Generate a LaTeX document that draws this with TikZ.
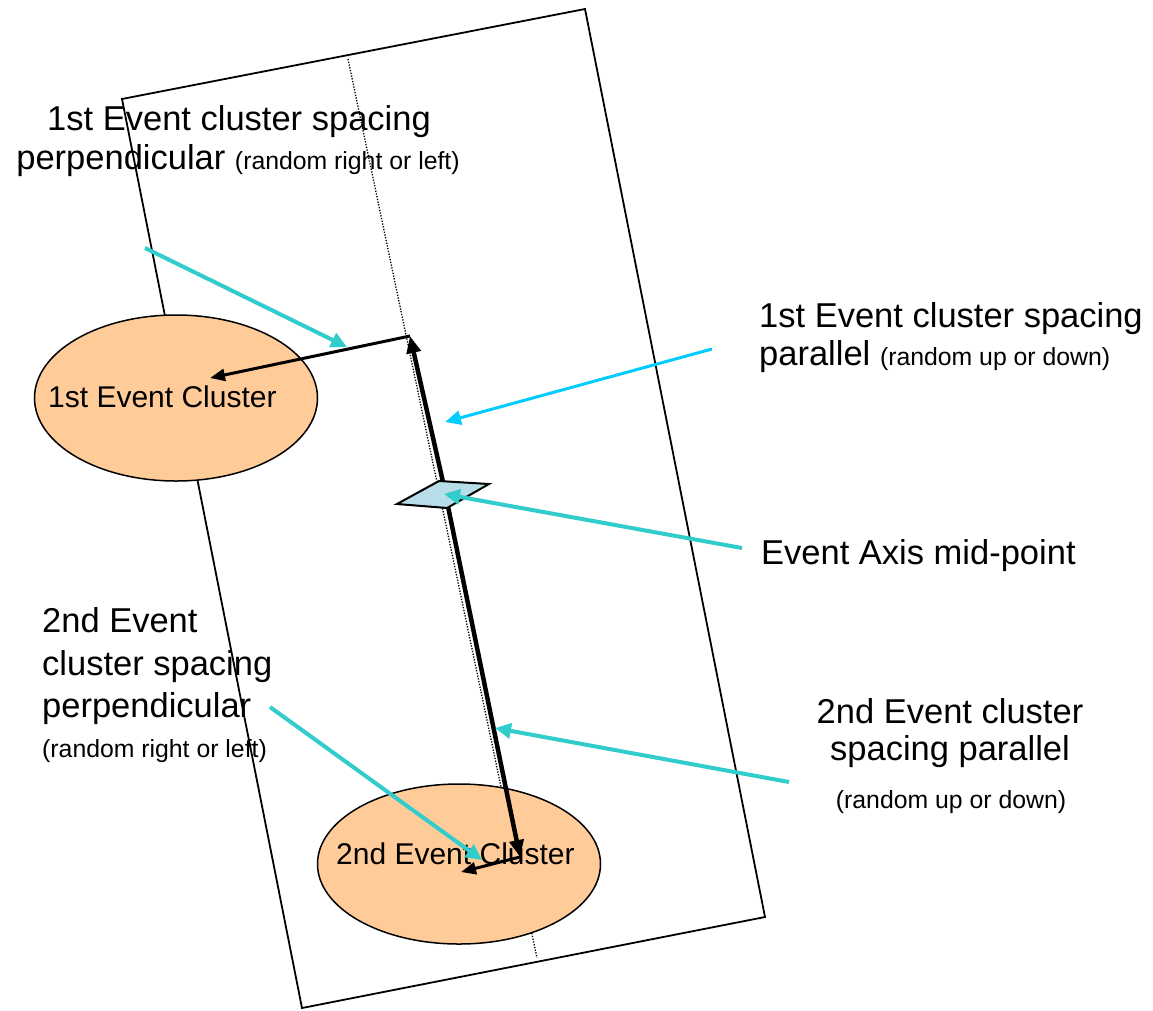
\documentclass[tikz,border=0pt]{standalone}
\usepackage{fontspec}
\setmainfont{Liberation Sans}
\usetikzlibrary{arrows.meta,shapes.geometric}

\definecolor{peach}{RGB}{255,204,153}
\definecolor{turq}{RGB}{51,204,204}
\definecolor{sky}{RGB}{0,204,255}
\definecolor{pale}{RGB}{183,222,232}

\newcommand{\rndnote}[1]{{\fontsize{24.8}{28}\selectfont #1}}

\tikzset{
  big/.style={font=\fontsize{34.5}{40}\selectfont, inner sep=0pt},
  note/.style={font=\fontsize{24.8}{28}\selectfont, inner sep=0pt},
  cluster/.style={ellipse, draw=black, line width=1.5pt, fill=peach, inner sep=0pt},
  clustertext/.style={font=\fontsize{30}{34}\selectfont, inner sep=0pt, anchor=base west},
  frame/.style={draw=black, line width=1.8pt, line join=miter},
  axis/.style={draw=black, line width=1.3pt, dash pattern=on 1.3pt off 1.5pt},
  spacing/.style={draw=black, line width=3pt, -{Triangle[length=15pt,width=12pt]}},
  spacingbold/.style={draw=black, line width=4.5pt, -{Triangle[length=17pt,width=14pt]}},
  pointer/.style={draw=turq, line width=4pt, -{Triangle[length=16pt,width=15pt]}},
  pointersky/.style={draw=sky, line width=3pt, -{Triangle[length=16pt,width=14pt]}},
}

\begin{document}
\begin{tikzpicture}[x=1pt,y=-1pt]
  \useasboundingbox (0,0) rectangle (1153,1010);

  % tilted event frame and its dotted axis
  \coordinate (f1) at (122,99);
  \coordinate (f2) at (585,9);
  \coordinate (f3) at (765,917);
  \coordinate (f4) at (302,1008);
  \draw[frame] (f1) -- (f2) -- (f3) -- (f4) -- cycle;
  \coordinate (axtop) at (348,59);
  \coordinate (axbot) at (537,958);
  \draw[axis] (axtop) -- (axbot);

  % event clusters
  \node[cluster, minimum width=283pt, minimum height=166pt] (clA) at (176,398) {};
  \node[cluster, minimum width=283pt, minimum height=160pt] (clB) at (459,864) {};
  \node[clustertext] (clAtext) at (48,407) {1st Event Cluster};
  \node[clustertext] (clBtext) at (336,864) {2nd Event Cluster};

  % spacing vectors
  \coordinate (mid) at (443,482);
  \coordinate (ptop) at (410,336);
  \coordinate (pbot) at (520,857);
  \coordinate (tipA) at (210,378);
  \coordinate (tipB) at (461,872);
  \draw[spacingbold] (mid) -- (ptop);
  \draw[spacingbold] (mid) -- (pbot);
  \draw[spacing] (ptop) -- (tipA);
  \draw[spacing] (pbot) -- (tipB);

  % axis mid-point marker
  \coordinate (m1) at (397,504);
  \coordinate (m2) at (439,481);
  \coordinate (m3) at (489,484);
  \coordinate (m4) at (447,508);
  \draw[fill=pale, draw=black, line width=2pt, line join=miter] (m1) -- (m2) -- (m3) -- (m4) -- cycle;

  % labels
  \node[big, anchor=base] (lA1) at (239,130) {1st Event cluster spacing};
  \node[big, anchor=base] (lA2) at (238,169) {perpendicular \rndnote{(random right or left)}};

  \node[big, anchor=base west] (lB1) at (759,327) {1st Event cluster spacing};
  \node[big, anchor=base west] (lB2) at (759,365) {parallel \rndnote{(random up or down)}};

  \node[big, anchor=base west] (lC) at (761,564) {Event Axis mid-point};

  \node[big, anchor=base west] (lD1) at (42,632) {2nd Event};
  \node[big, anchor=base west] (lD2) at (42,675) {cluster spacing};
  \node[big, anchor=base west] (lD3) at (42,717) {perpendicular};
  \node[note, anchor=base west] (lD4) at (42,757) {(random right or left)};

  \node[big, anchor=base] (lE1) at (950,723) {2nd Event cluster};
  \node[big, anchor=base] (lE2) at (950,760) {spacing parallel};
  \node[note, anchor=base] (lE3) at (951,808) {(random up or down)};

  % pointers from labels
  \coordinate (sA) at (145,248);
  \coordinate (eA) at (347,347);
  \coordinate (sB) at (712,349);
  \coordinate (eB) at (445,422);
  \coordinate (sC) at (742,548);
  \coordinate (eC) at (444,494);
  \coordinate (sD) at (270,707);
  \coordinate (eD) at (482,860);
  \coordinate (sE) at (789,782);
  \coordinate (eE) at (495,728);
  \draw[pointer] (sA) -- (eA);
  \draw[pointersky] (sB) -- (eB);
  \draw[pointer] (sC) -- (eC);
  \draw[pointer] (sD) -- (eD);
  \draw[pointer] (sE) -- (eE);
\end{tikzpicture}
\end{document}
